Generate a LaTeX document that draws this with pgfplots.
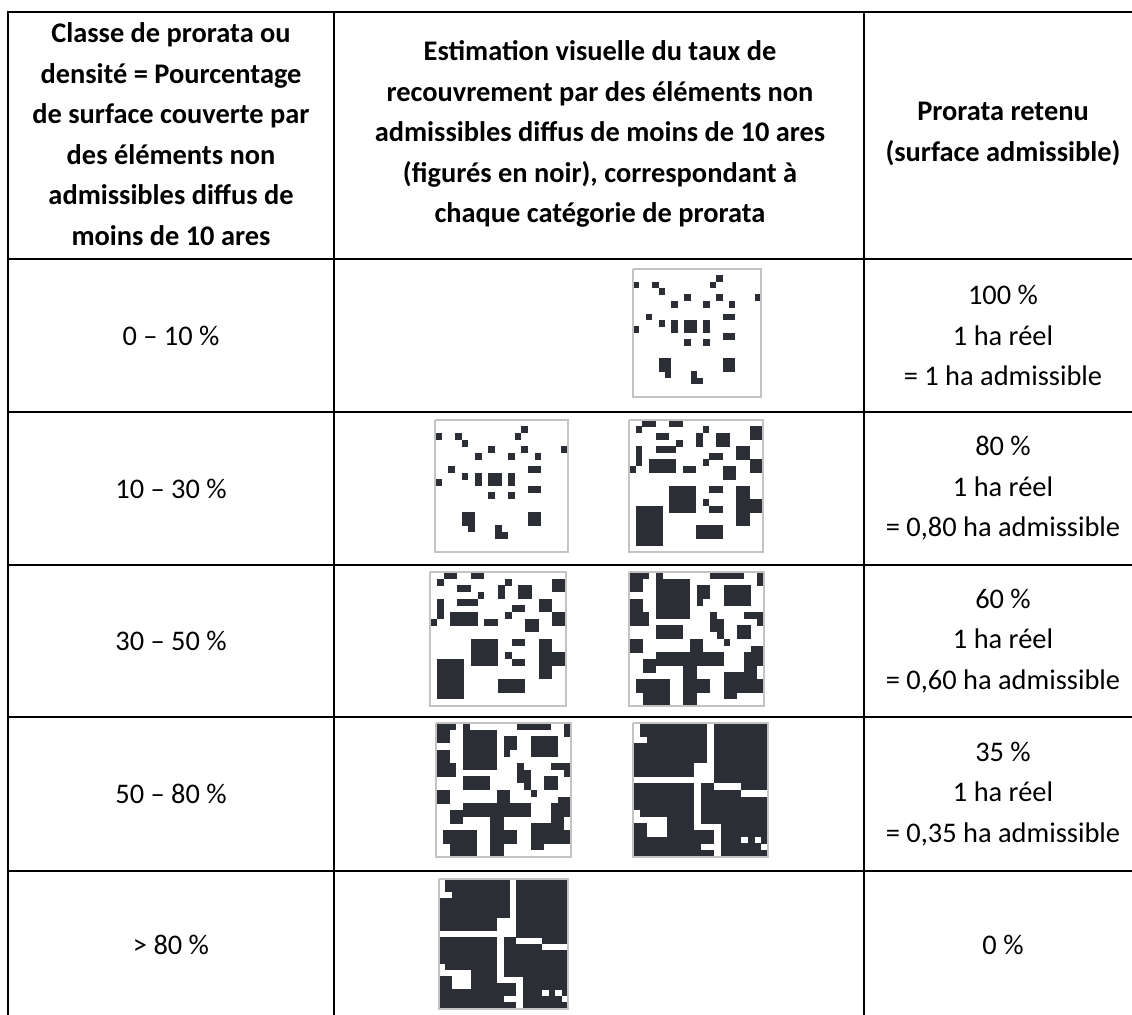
\documentclass[border=0pt]{standalone}
\usepackage{pgfplots}
\usepackage{pgfplotstable}
\pgfplotsset{compat=1.18}
\usepackage{fontspec}
\setmainfont{Carlito}
\definecolor{imgblack}{RGB}{44,46,53}
\definecolor{imgborder}{RGB}{195,195,195}

% black runs per pattern row: r = row, a..b = columns (20x20 grid)
\pgfplotstableread{
r a b
1 13 13
2 0 0
2 3 3
2 12 12
3 4 4
4 8 8
4 13 13
4 19 19
5 6 6
5 11 11
5 15 15
7 2 2
7 14 15
8 4 4
8 6 6
8 8 9
8 11 11
9 0 0
9 6 6
9 8 9
9 11 11
10 14 15
11 8 8
11 11 11
14 4 5
14 14 15
15 4 5
15 14 15
16 5 5
16 9 9
17 9 10
}\patA

\pgfplotstableread{
r a b
0 2 3
0 6 7
1 1 1
1 11 11
1 18 19
2 4 5
2 10 10
2 13 14
2 18 19
3 7 7
3 10 10
3 13 14
4 1 1
4 4 6
4 16 17
5 1 1
5 12 13
5 16 17
6 1 1
6 3 6
6 11 11
6 18 19
7 0 0
7 3 6
7 8 9
7 14 15
7 18 19
8 14 15
10 6 9
10 12 13
10 16 17
11 6 9
11 16 17
12 6 9
12 11 11
12 16 19
13 1 4
13 6 9
13 12 13
13 16 19
14 1 4
14 16 17
15 1 4
15 16 17
16 1 4
16 10 13
17 1 4
17 10 13
18 1 4
}\patB

\pgfplotstableread{
r a b
0 0 2
0 4 4
0 12 16
0 19 19
1 0 1
1 4 8
1 19 19
2 0 1
2 4 8
2 10 11
2 14 17
3 4 8
3 10 11
3 14 17
4 0 1
4 4 8
4 10 10
4 14 17
5 0 1
5 4 8
6 0 2
6 4 8
6 12 12
6 17 19
7 0 2
7 12 13
7 19 19
8 4 7
8 12 13
8 16 17
9 4 7
9 13 13
9 16 17
10 0 1
10 9 10
10 14 14
11 0 1
11 9 10
11 18 19
12 4 13
12 17 19
13 2 13
13 17 19
14 2 3
14 8 9
14 17 18
15 8 9
15 14 18
16 1 5
16 8 11
16 14 19
17 1 5
17 8 11
17 14 19
18 2 5
18 8 9
18 14 15
19 2 5
19 8 9
}\patC

\pgfplotstableread{
r a b
0 1 10
0 12 19
1 1 10
1 12 19
2 2 10
2 12 19
3 0 10
3 12 19
4 0 10
4 12 19
5 0 10
5 12 19
6 0 8
6 12 19
7 0 8
7 12 19
8 12 19
9 0 8
9 10 11
9 16 19
10 0 8
10 10 15
11 0 8
11 10 19
12 0 8
12 10 19
13 1 8
13 10 19
14 5 8
14 10 19
15 0 1
15 5 8
15 13 19
16 0 1
16 5 11
16 13 19
17 0 11
17 13 15
17 17 17
17 19 19
18 0 9
18 13 18
19 0 11
19 13 19
}\patD

% #1 pattern table, #2 x0, #3 y0, #4 x1, #5 y1
\newcommand{\drawimg}[5]{%
  \addplot[forget plot, draw=none, mark=none,
    error bars/.cd, x dir=both, x explicit, error mark=none,
    error bar style={draw=imgblack, line cap=butt, line width={(#5-#3)/20*0.5pt+0.15pt}}]
    table[x expr={#2+(#4-#2)/20*(\thisrow{a}+\thisrow{b}+1)/2},
          y expr={#3+(#5-#3)/20*(\thisrow{r}+0.5)},
          x error expr={(#4-#2)/20*(\thisrow{b}-\thisrow{a}+1)/2}] {#1};
  \addplot[forget plot, draw=imgborder, line width=0.9pt, mark=none]
    coordinates {(#2,#3) (#4,#3) (#4,#5) (#2,#5) (#2,#3)};
}

\newcommand{\tfont}{\fontsize{14.2}{20.25}\selectfont}

\begin{document}
\begin{tikzpicture}
\begin{axis}[
  name=ax,
  width=566pt, height=507pt, scale only axis,
  xmin=0, xmax=1132, ymin=0, ymax=1014,
  y dir=reverse,
  hide axis, clip=false,
  tline/.style={black, line width=1.15pt, line cap=rect, mark=none, forget plot},
]
% images
\drawimg{\patA}{633}{269}{761}{397}
\drawimg{\patA}{435}{420}{568}{552}
\drawimg{\patB}{629}{420}{763}{552}
\drawimg{\patB}{430}{572}{566}{706}
\drawimg{\patC}{629}{572}{764}{706}
\drawimg{\patC}{436}{723}{571}{857}
\drawimg{\patD}{633}{723}{768}{857}
\drawimg{\patD}{439}{879}{568}{1009}

% table rules
\addplot[tline] coordinates {(8,12) (1142,12)};
\addplot[tline] coordinates {(8,259) (1142,259)};
\addplot[tline] coordinates {(8,412) (1142,412)};
\addplot[tline] coordinates {(8,565) (1142,565)};
\addplot[tline] coordinates {(8,717) (1142,717)};
\addplot[tline] coordinates {(8,871) (1142,871)};
\addplot[tline] coordinates {(8,1019) (1142,1019)};
\addplot[tline] coordinates {(8,12) (8,1019)};
\addplot[tline] coordinates {(334,12) (334,1019)};
\addplot[tline] coordinates {(864,12) (864,1019)};
\addplot[tline] coordinates {(1142,12) (1142,1019)};

% header text
\node[align=center, font=\tfont\bfseries] at (axis cs:171,134)
  {Classe de prorata ou\\densité = Pourcentage\\de surface couverte par\\des éléments non\\admissibles diffus de\\moins de 10 ares};
\node[align=center, font=\tfont\bfseries] at (axis cs:600,134)
  {Estimation visuelle du taux de\\recouvrement par des éléments non\\admissibles diffus de moins de 10 ares\\(figurés en noir), correspondant à\\chaque catégorie de prorata};
\node[align=center, font=\tfont\bfseries] at (axis cs:1003,134)
  {Prorata retenu\\(surface admissible)};

% column 1
\node[font=\tfont] at (axis cs:171,335.5) {0 – 10 \%};
\node[font=\tfont] at (axis cs:171,488.5) {10 – 30 \%};
\node[font=\tfont] at (axis cs:171,641) {30 – 50 \%};
\node[font=\tfont] at (axis cs:171,794) {50 – 80 \%};
\node[font=\tfont] at (axis cs:171,945) {> 80 \%};

% column 3
\node[align=center, font=\tfont] at (axis cs:1003,335.5) {100 \%\\1 ha réel\\= 1 ha admissible};
\node[align=center, font=\tfont] at (axis cs:1003,488.5) {80 \%\\1 ha réel\\= 0,80 ha admissible};
\node[align=center, font=\tfont] at (axis cs:1003,641) {60 \%\\1 ha réel\\= 0,60 ha admissible};
\node[align=center, font=\tfont] at (axis cs:1003,794) {35 \%\\1 ha réel\\= 0,35 ha admissible};
\node[align=center, font=\tfont] at (axis cs:1003,945) {0 \%};
\end{axis}
\pgfresetboundingbox
\path (ax.south west) rectangle (ax.north east);
\end{tikzpicture}
\end{document}
